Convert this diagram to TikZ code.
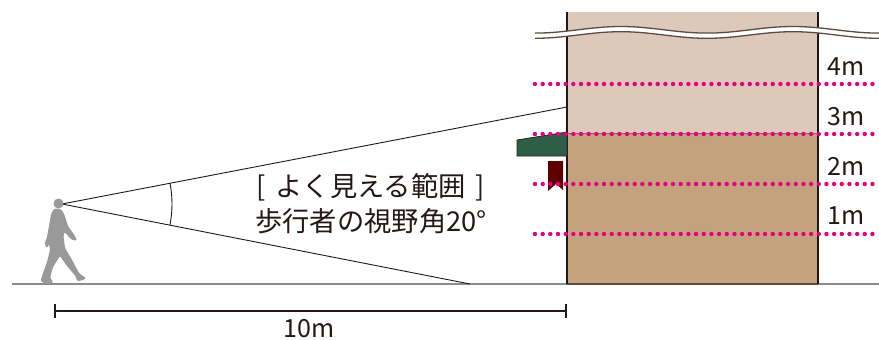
\documentclass[tikz,border=0pt]{standalone}
\usepackage{fontspec}
\setmainfont{Noto Sans CJK JP}
\definecolor{ink}{HTML}{231815}
\definecolor{wallup}{HTML}{DDC8BA}
\definecolor{walllow}{HTML}{C4A27E}
\definecolor{awning}{HTML}{2F5E46}
\definecolor{banner}{HTML}{5E0000}
\definecolor{dotpink}{HTML}{E6007E}
\definecolor{figure}{HTML}{999999}
\definecolor{ground}{HTML}{8C8C8C}
\definecolor{breakline}{HTML}{5B4B42}
\begin{document}
\begin{tikzpicture}[x=1pt,y=-1pt,
  lbl/.style={font=\fontsize{25}{25}\selectfont, text=ink, inner sep=0pt},
  jp/.style={font=\fontsize{27.3}{27.3}\selectfont, text=ink, inner sep=0pt, anchor=base west},
  sight/.style={draw=ink, line width=0.9pt},
  wall/.style={draw=ink, line width=1.2pt},
  heightline/.style={draw=dotpink, line width=4.4pt, line cap=round, dash pattern=on 0pt off 7.67pt},
  breakstroke/.style={draw=breakline, line width=1.3pt},
  dimline/.style={draw=ink, line width=1.1pt},
]
\useasboundingbox (0,0) rectangle (879,340);

% building coordinates
\coordinate (btl) at (567,12);
\coordinate (btr) at (818,12);
\coordinate (bml) at (567,133);
\coordinate (bmr) at (818,133);
\coordinate (bbl) at (567,284);
\coordinate (bbr) at (818,284);

% building body: upper and lower storeys
\fill[wallup] (btl) rectangle (bmr);
\fill[walllow] (bml) rectangle (bbr);
\draw[draw=ground!80!black, line width=1pt] (bml) -- (bmr);

% ground
\coordinate (g0) at (12,284);
\coordinate (g1) at (879,284);
\draw[draw=ground, line width=1.5pt] (g0) -- (g1);
\draw[draw=breakline, line width=1.2pt] (bbl) -- (bbr);

% building walls
\draw[wall] (btl) -- (bbl);
\draw[wall] (btr) -- (bbr);

% wavy break marks (period 172)
\fill[white] plot[domain=535:879,samples=90] (\x,{29.8+3.3*cos(2.093*(\x-535))})
  -- plot[domain=879:535,samples=90] (\x,{35.0+3.3*cos(2.093*(\x-535))}) -- cycle;
\draw[breakstroke] plot[domain=535:879,samples=90] (\x,{29.8+3.3*cos(2.093*(\x-535))});
\draw[breakstroke] plot[domain=535:879,samples=90] (\x,{35.0+3.3*cos(2.093*(\x-535))});

% awning
\fill[awning, draw=ink!80!awning, line width=0.8pt] (517,140) -- (567,132) -- (567,156) -- (517,156) -- cycle;

% hanging banner
\fill[banner] (548,161) -- (563,161) -- (563,190) -- (556,184) -- (548,191) -- cycle;

% line of sight
\coordinate (eye) at (62,204);
\coordinate (hit) at (567,107);
\coordinate (foot) at (470,284);
\draw[sight] (eye) -- (hit);
\draw[sight] (eye) -- (foot);
\draw[sight] ([shift={(-10.87:110)}]eye) arc (-10.87:11.09:110);

% walking person
\fill[figure] (58.5,203.5) circle (5);
\fill[figure, rounded corners=1.2pt]
  (54,209) -- (51,214) -- (49,226) -- (47,237) -- (44.5,244) -- (47,248) -- (49,244)
  -- (50,250) -- (47,262) -- (43,273) -- (40.5,281) -- (45,283.5) -- (52,283.5) -- (53,281)
  -- (50,278) -- (53,267) -- (60,256) -- (67,266) -- (75.5,276) -- (77,281) -- (82,280.5)
  -- (86,278) -- (83,276) -- (79,273) -- (71,258) -- (65,248) -- (63.5,236) -- (64.5,232)
  -- (72,240) -- (77,240.5) -- (75,236) -- (68,226) -- (64.5,215) -- (62,210) -- (58,208.5) -- cycle;

% height guide lines
\foreach \name/\yy in {h4/84, h3/134, h2/184, h1/234} {
  \coordinate (\name a) at (535,\yy);
  \coordinate (\name b) at (879,\yy);
  \draw[heightline] (\name a) -- (\name b);
}

% height labels
\node[lbl] (l4) at (846.5,66.5) {4m};
\node[lbl] (l3) at (846.5,117) {3m};
\node[lbl] (l2) at (846.5,166) {2m};
\node[lbl] (l1) at (846.5,216) {1m};

% caption
\node[jp] (cap1) at (256,196.5) {[\hspace{10pt}よく見える範囲\hspace{10pt}]};
\node[jp] (cap2) at (255,231.5) {歩行者の視野角20°};

% distance dimension
\coordinate (dl) at (55,311);
\coordinate (dr) at (566,311);
\draw[dimline] (dl) -- (dr);
\draw[dimline] ([yshift=-7]dl) -- ([yshift=7]dl);
\draw[dimline] ([yshift=-7]dr) -- ([yshift=7]dr);
\node[lbl] (dist) at (309,328.5) {10m};
\end{tikzpicture}
\end{document}
